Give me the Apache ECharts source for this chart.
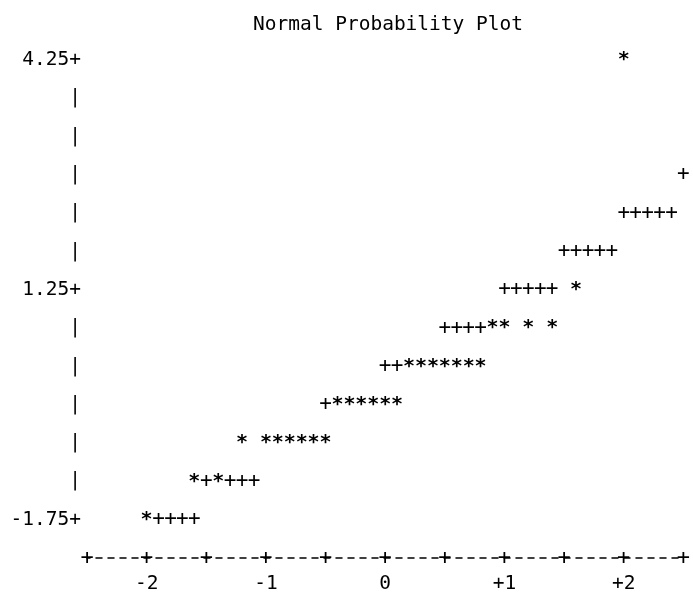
<!DOCTYPE html>
<html>
<head>
<meta charset="utf-8">
<title>Normal Probability Plot</title>
<script src="https://cdn.jsdelivr.net/npm/echarts@6/dist/echarts.min.js"></script>
<style>
  html, body { margin: 0; padding: 0; background: #fff; }
  #chart { width: 693px; height: 608px; }
</style>
</head>
<body>
<div id="chart"></div>
<script>
// Observations: normal quantile (x) and binned value (y), printed as '*'
const obsQuantile = [-2.0, -1.6, -1.4, -1.2, -1.0, -0.9, -0.8, -0.7, -0.6, -0.5,
  -0.4, -0.3, -0.2, -0.1, 0.0, 0.1, 0.2, 0.3, 0.4, 0.5, 0.6, 0.7, 0.8,
  0.9, 1.0, 1.2, 1.4, 1.6, 2.0];
const obsValue = [-1.75, -1.25, -1.25, -0.75, -0.75, -0.75, -0.75, -0.75, -0.75, -0.75,
  -0.25, -0.25, -0.25, -0.25, -0.25, -0.25, 0.25, 0.25, 0.25, 0.25, 0.25, 0.25, 0.25,
  0.75, 0.75, 0.75, 0.75, 1.25, 4.25];

// Visible cells of the normal reference line, printed as '+'
const refQuantile = [-1.9, -1.8, -1.7, -1.6, -1.5, -1.3, -1.2, -1.1, -0.5, 0.0, 0.1,
  0.5, 0.6, 0.7, 0.8, 1.0, 1.1, 1.2, 1.3, 1.4, 1.5, 1.6, 1.7, 1.8, 1.9,
  2.0, 2.1, 2.2, 2.3, 2.4, 2.5];
const refValue = [-1.75, -1.75, -1.75, -1.75, -1.25, -1.25, -1.25, -1.25, -0.25, 0.25, 0.25,
  0.75, 0.75, 0.75, 0.75, 1.25, 1.25, 1.25, 1.25, 1.25, 1.75, 1.75, 1.75, 1.75, 1.75,
  2.25, 2.25, 2.25, 2.25, 2.25, 2.75];

// Axis rows / ticks
const yRows = [4.25, 3.75, 3.25, 2.75, 2.25, 1.75, 1.25, 0.75, 0.25, -0.25, -0.75, -1.25, -1.75];
const yLabelled = [4.25, 1.25, -1.75];
const xTicks = [-2.5, -2, -1.5, -1, -0.5, 0, 0.5, 1, 1.5, 2, 2.5];
const xLabelled = [-2, -1, 0, 1, 2];

const MONO = '"DejaVu Sans Mono", "Liberation Mono", monospace';
const INK = '#000';

const chart = echarts.init(document.getElementById('chart'), null, { renderer: 'canvas' });

function charSeries(xs, ys, ch, size, weight) {
  return {
    type: 'scatter',
    symbolSize: 0,
    clip: false,
    itemStyle: { color: INK, opacity: 0 },
    label: {
      show: true,
      position: 'inside',
      formatter: ch,
      fontFamily: MONO,
      fontSize: size,
      fontWeight: weight,
      color: INK,
      opacity: 1,
      textBorderWidth: 0,
      align: 'center',
      verticalAlign: 'middle'
    },
    emphasis: { disabled: true },
    data: xs.map((x, i) => [x, ys[i]])
  };
}

const option = {
  animation: false,
  backgroundColor: '#fff',
  title: {
    text: 'Normal Probability Plot',
    left: 248,
    top: 10,
    textStyle: { fontFamily: MONO, fontSize: 19.5, fontWeight: 'normal', color: INK }
  },
  grid: { left: 87, right: 6, top: 60, bottom: 50, containLabel: false },
  xAxis: [
    {
      type: 'value', min: -2.5, max: 2.5, interval: 0.5,
      position: 'bottom',
      axisLine: { show: true, onZero: false,
        lineStyle: { color: INK, width: 1.5, type: [6, 6], dashOffset: 3 } },
      axisTick: { show: false },
      splitLine: { show: false },
      axisLabel: {
        customValues: xLabelled,
        margin: 16,
        fontFamily: MONO, fontSize: 19.5, color: INK,
        formatter: v => (v > 0 ? '+' + v : String(v))
      }
    },
    {
      // '+' marks sitting on the axis line at every tick
      type: 'value', min: -2.5, max: 2.5, interval: 0.5,
      position: 'bottom',
      axisLine: { show: false, onZero: false },
      axisTick: { show: false },
      splitLine: { show: false },
      axisLabel: {
        customValues: xTicks,
        margin: 0,
        verticalAlign: 'middle',
        fontFamily: MONO, fontSize: 22, color: INK,
        formatter: () => '+'
      }
    }
  ],
  yAxis: {
    type: 'value', min: -2.25, max: 4.25,
    axisLine: { show: false },
    axisTick: { show: false },
    splitLine: { show: false },
    axisLabel: {
      customValues: yRows,
      margin: 6,
      align: 'right',
      verticalAlign: 'middle',
      fontFamily: MONO, fontSize: 19.5, color: INK,
      formatter: v => (yLabelled.some(t => Math.abs(t - v) < 1e-9) ? v.toFixed(2) + '+' : '|')
    }
  },
  series: [
    charSeries(refQuantile, refValue, '+', 21, 'normal'),
    charSeries(obsQuantile, obsValue, '*', 20, 'bold')
  ]
};

chart.setOption(option);
</script>
</body>
</html>
